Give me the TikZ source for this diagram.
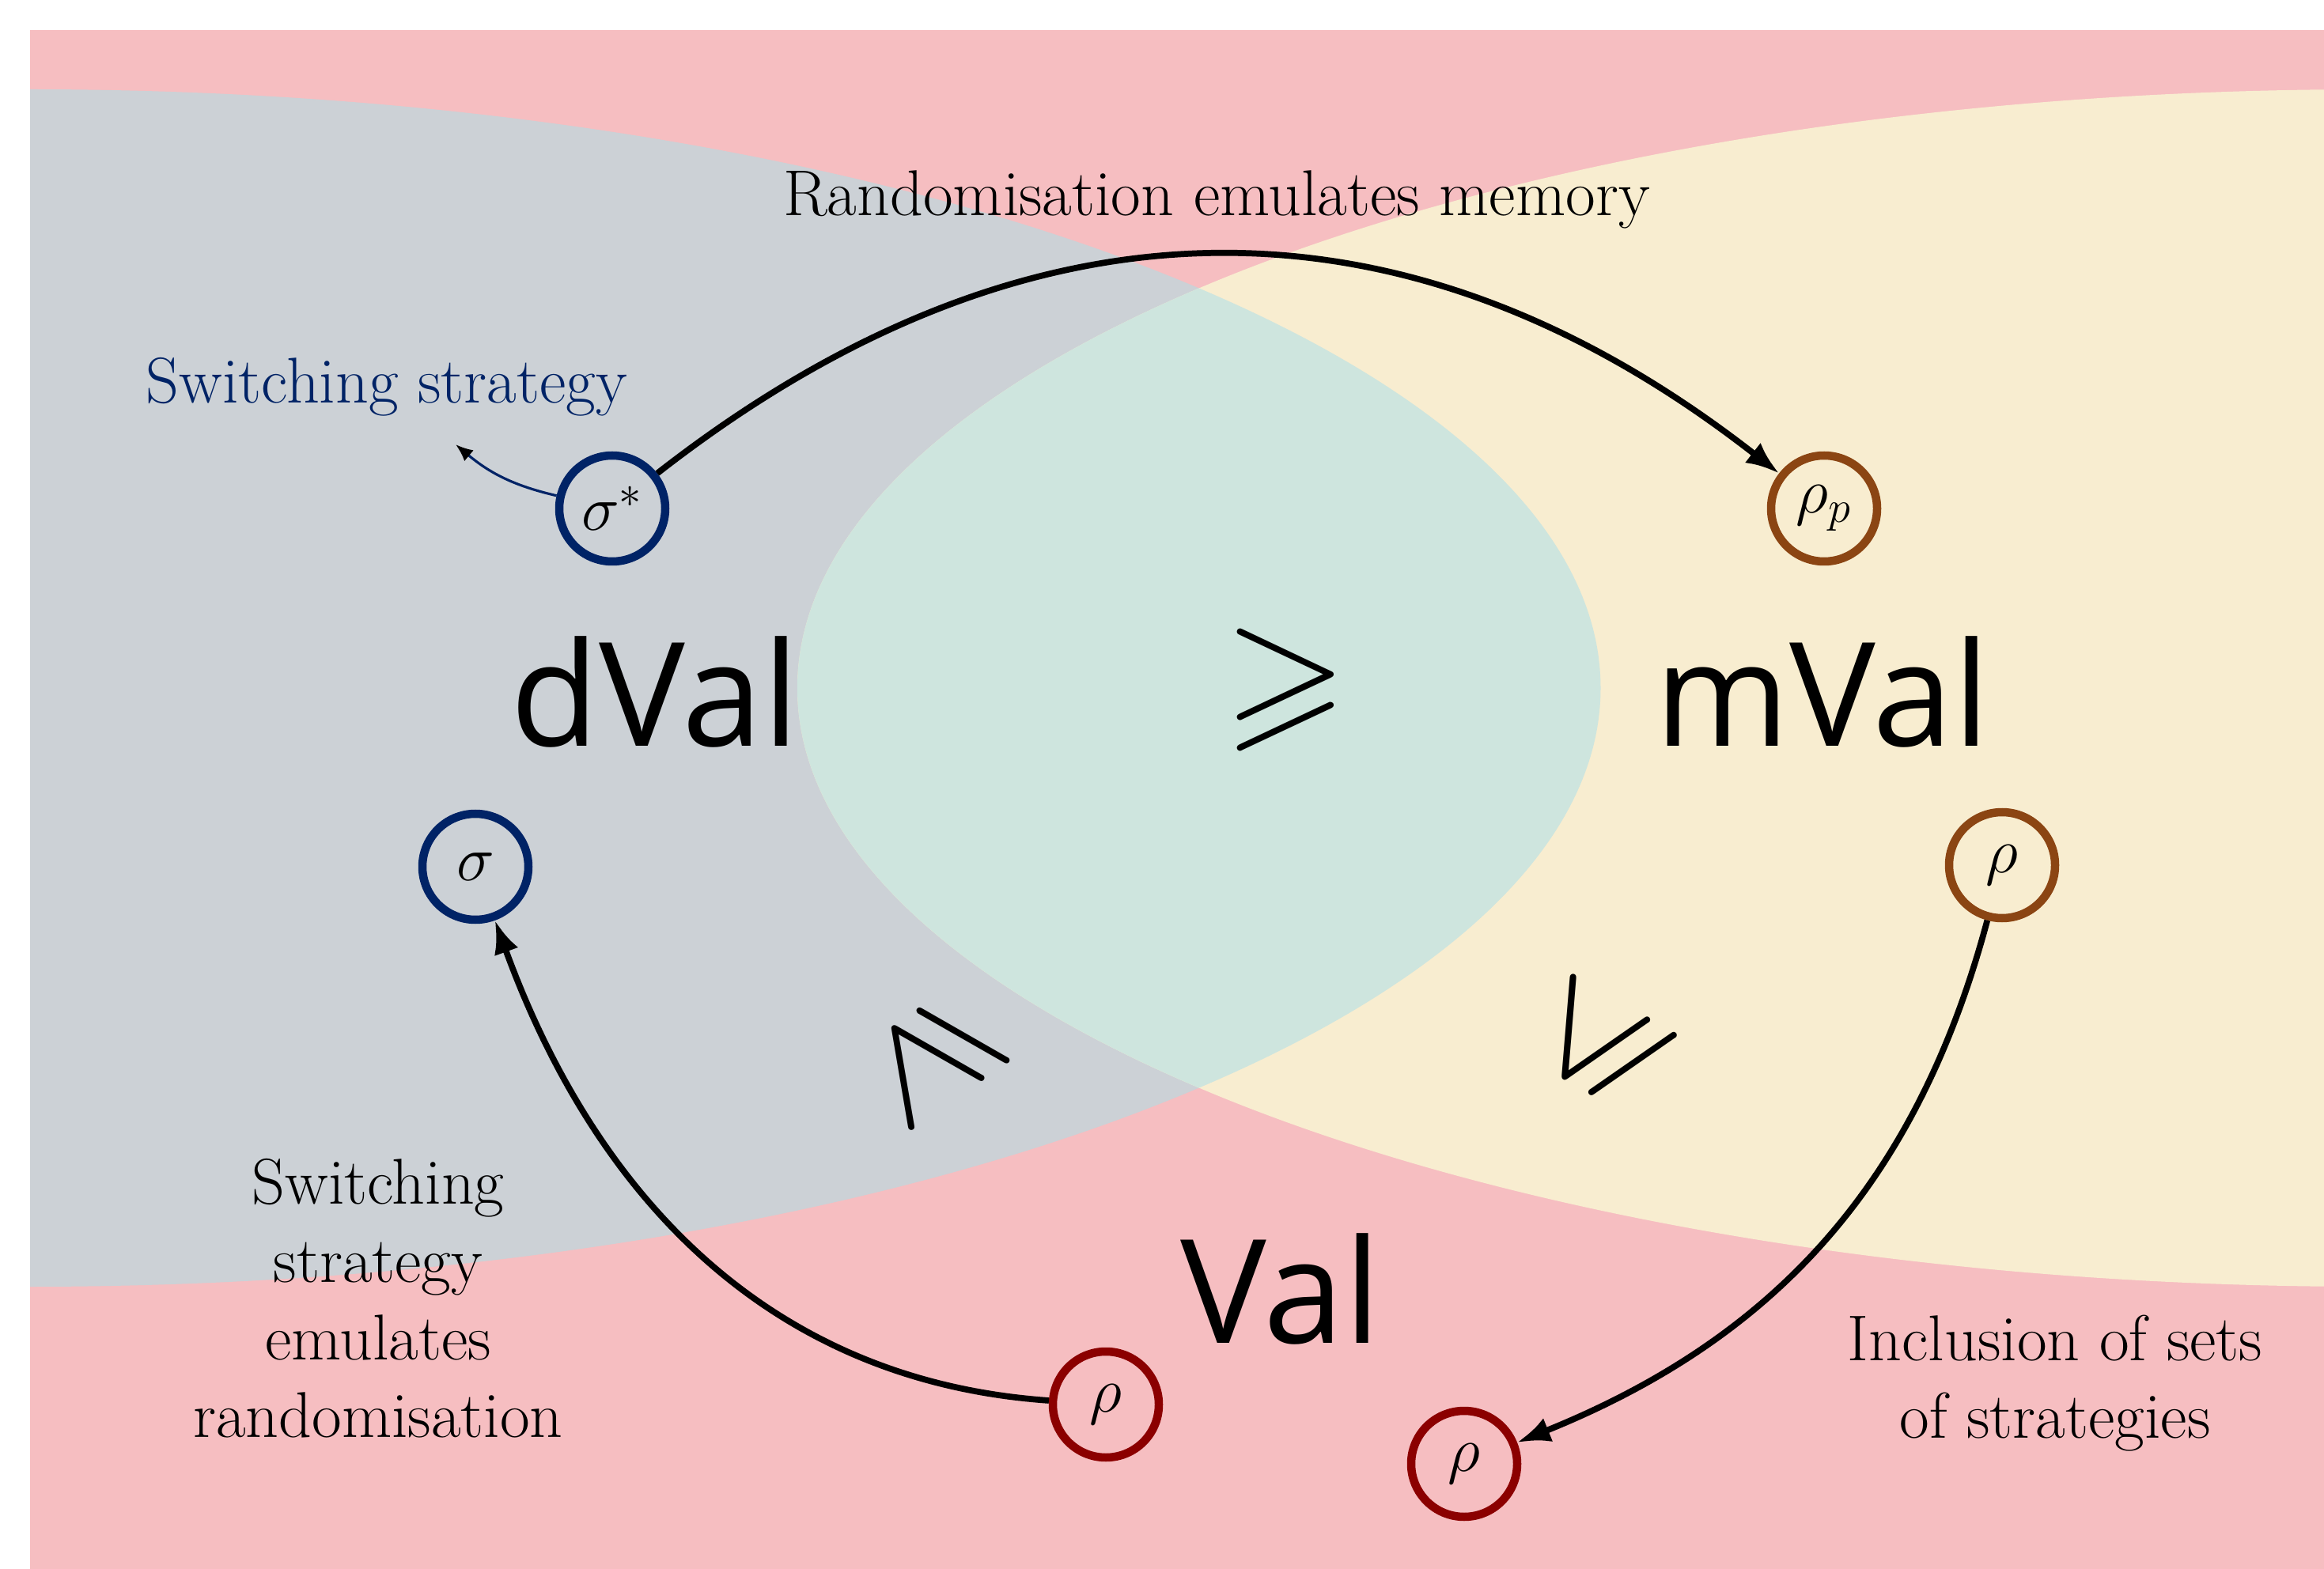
\RequirePackage{fix-cm}
\documentclass[tikz,border=0pt]{standalone}
\usepackage{fontspec}
\usepackage{amssymb}
\usepackage{tikz}
\usetikzlibrary{arrows.meta}
\newfontfamily\valfont{Open Sans}
\definecolor{valpink}{HTML}{F6BEC1}
\definecolor{dvalgray}{HTML}{CCD1D6}
\definecolor{mvalyellow}{HTML}{F8EDD0}
\definecolor{bothteal}{HTML}{CEE5DE}
\definecolor{detblue}{HTML}{002366}
\definecolor{memobrown}{HTML}{8B4513}
\definecolor{randred}{HTML}{8B0000}
\tikzset{
  strat/.style={circle, draw, line width=1.05mm, minimum size=13.4mm, inner sep=0pt, font=\fontsize{23}{27}\selectfont},
  detstrat/.style={strat, draw=detblue},
  memstrat/.style={strat, draw=memobrown},
  randstrat/.style={strat, draw=randred},
  setlabel/.style={font=\valfont\fontsize{52}{56}\selectfont},
  relation/.style={font=\fontsize{57}{60}\selectfont},
  note/.style={align=center, font=\fontsize{23.3}{28}\selectfont},
  arrow/.style={-{Latex[length=4.2mm,width=3.2mm]}, line width=2.2pt},
  smallarrow/.style={-{Latex[length=2.2mm,width=1.8mm,color=black]}, line width=0.9pt, draw=detblue}
}
\begin{document}
\begin{tikzpicture}
  \useasboundingbox (0,0) rectangle (29.38,-19.84);
  \fill[valpink] (0.38,-0.38) rectangle (29.38,-19.84);
  \begin{scope}
    \clip (0.38,-0.38) rectangle (29.38,-19.84);
    \fill[dvalgray] (0.375,-8.70) ellipse [x radius=19.86, y radius=7.57];
    \fill[mvalyellow] (29.94,-8.70) ellipse [x radius=19.86, y radius=7.57];
    \clip (0.375,-8.70) ellipse [x radius=19.86, y radius=7.57];
    \fill[bothteal] (29.94,-8.70) ellipse [x radius=19.86, y radius=7.57];
  \end{scope}

  \node[setlabel] (dval) at (8.28,-8.75) {dVal};
  \node[setlabel] (mval) at (23.04,-8.75) {mVal};
  \node[setlabel] (val) at (16.19,-16.30) {Val};
  \node[relation] (geqtop) at (16.25,-8.72) {$\geqslant$};
  \node[relation, rotate=125] (geqleft) at (11.80,-13.36) {$\geqslant$};
  \node[relation, rotate=60] (leqright) at (20.24,-13.22) {$\leqslant$};

  \node[detstrat] (sstar) at (7.74,-6.43) {$\sigma^*$};
  \node[memstrat] (rhop) at (23.06,-6.43) {$\rho_p$};
  \node[detstrat] (sigma) at (6.01,-10.96) {$\sigma$};
  \node[memstrat] (rhom) at (25.31,-10.94) {$\rho$};
  \node[randstrat] (rhoa) at (13.98,-17.76) {$\rho$};
  \node[randstrat] (rhob) at (18.51,-18.51) {$\rho$};

  \node[note] (memnote) at (15.38,-2.52) {Randomisation emulates memory};
  \node[note, text=detblue] (switchnote) at (4.89,-4.89) {Switching strategy};
  \coordinate (switchtip) at (5.76,-5.62);
  \node[note] (emulnote) at (4.78,-16.42) {Switching\\strategy\\emulates\\randomisation};
  \node[note] (inclnote) at (25.98,-17.49) {Inclusion of sets\\of strategies};

  \draw[arrow] (sstar) to[out=38, in=142, looseness=1.08] (rhop);
  \draw[arrow] (rhoa) to[out=176, in=-70] (sigma);
  \draw[arrow] (rhom) to[out=-105, in=22] (rhob);
  \draw[smallarrow] (sstar) to[out=167, in=-40] (switchtip);
\end{tikzpicture}
\end{document}
